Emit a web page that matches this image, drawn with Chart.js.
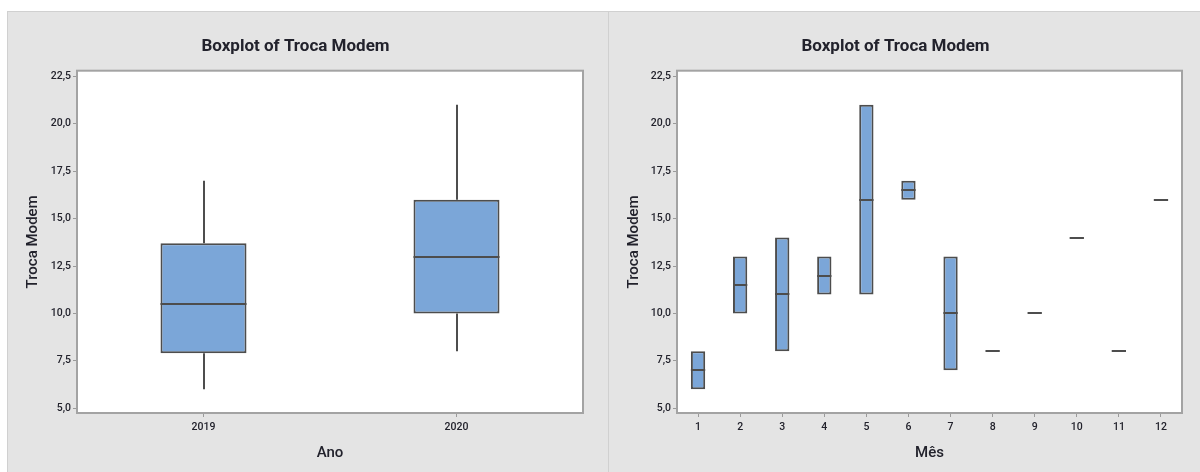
<!DOCTYPE html>
<html>
<head>
<meta charset="utf-8">
<script src="https://cdn.jsdelivr.net/npm/chart.js@4/dist/chart.umd.min.js"></script>
<style>
  html, body { margin: 0; padding: 0; background: #ffffff; width: 1200px; height: 472px; overflow: hidden; }
  .panel { position: absolute; top: 11px; width: 600px; height: 460px; background: #e4e4e4; border: 1px solid #d0d0d0; border-bottom: none; }
  #p1 { left: 7px; }
  #p2 { left: 608px; }
  canvas { display: block; }
</style>
</head>
<body>
<div class="panel" id="p1"><canvas id="anoChart" width="600" height="460"></canvas></div>
<div class="panel" id="p2"><canvas id="mesChart" width="600" height="460"></canvas></div>
<script>
// Troca Modem by year
var years = ['2019', '2020'];
var yearMin = [6, 8];
var yearQ1 = [7.9, 10];
var yearMedian = [10.5, 13];
var yearQ3 = [13.7, 16];
var yearMax = [17, 21];

// Troca Modem by month
var months = ['1', '2', '3', '4', '5', '6', '7', '8', '9', '10', '11', '12'];
var monthMin = [6, 10, 8, 11, 11, 16, 7, 8, 10, 14, 8, 16];
var monthQ1 = [6, 10, 8, 11, 11, 16, 7, 8, 10, 14, 8, 16];
var monthMedian = [7, 11.5, 11, 12, 16, 16.5, 10, 8, 10, 14, 8, 16];
var monthQ3 = [8, 13, 14, 13, 21, 17, 13, 8, 10, 14, 8, 16];
var monthMax = [8, 13, 14, 13, 21, 17, 13, 8, 10, 14, 8, 16];

var yTicks = [5, 7.5, 10, 12.5, 15, 17.5, 20, 22.5];

var boxFill = '#7ba6d8';
var lineColor = '#4d4d4d';
var textColor = '#22222c';

function boxplot(canvasId, labels, mins, q1s, medians, q3s, maxs, xTitle, area) {
  // white plot area with grey frame, then whiskers and medians on top of the bars
  var marks = {
    id: 'boxMarks',
    beforeDraw: function(chart) {
      var a = chart.chartArea, ctx = chart.ctx;
      ctx.save();
      ctx.fillStyle = '#ffffff';
      ctx.fillRect(a.left, a.top, a.right - a.left, a.bottom - a.top);
      ctx.restore();
    },
    beforeDatasetsDraw: function(chart) {
      var a = chart.chartArea, ctx = chart.ctx;
      ctx.save();
      ctx.strokeStyle = '#a3a3a3';
      ctx.lineWidth = 2;
      ctx.strokeRect(a.left, a.top, a.right - a.left, a.bottom - a.top);
      ctx.restore();
    },
    afterDatasetsDraw: function(chart) {
      var ctx = chart.ctx, y = chart.scales.y;
      var bars = chart.getDatasetMeta(0).data;
      ctx.save();
      ctx.strokeStyle = lineColor;
      ctx.lineWidth = 2;
      bars.forEach(function(bar, i) {
        var x = Math.round(bar.x);
        ctx.beginPath();
        if (mins[i] < q1s[i]) {
          ctx.moveTo(x, y.getPixelForValue(mins[i]));
          ctx.lineTo(x, y.getPixelForValue(q1s[i]));
        }
        if (maxs[i] > q3s[i]) {
          ctx.moveTo(x, y.getPixelForValue(q3s[i]));
          ctx.lineTo(x, y.getPixelForValue(maxs[i]));
        }
        var my = Math.round(y.getPixelForValue(medians[i]));
        ctx.moveTo(bar.x - bar.width / 2, my);
        ctx.lineTo(bar.x + bar.width / 2, my);
        ctx.stroke();
      });
      ctx.restore();
    }
  };

  return new Chart(document.getElementById(canvasId), {
    type: 'bar',
    data: {
      labels: labels,
      datasets: [{
        data: q1s.map(function(q, i) { return [q, q3s[i]]; }),
        backgroundColor: boxFill,
        borderColor: lineColor,
        borderWidth: 2,
        borderSkipped: false,
        barPercentage: 0.34,
        categoryPercentage: 1
      }]
    },
    options: {
      responsive: false,
      animation: false,
      devicePixelRatio: 1,
      layout: { padding: { left: 0, right: area.right, top: 0, bottom: 0 } },
      plugins: {
        legend: { display: false },
        tooltip: { enabled: false },
        title: {
          display: true,
          text: 'Boxplot of Troca Modem',
          color: textColor,
          font: { family: 'Roboto', size: 17, weight: 'bold' },
          padding: { top: 24.5, bottom: 13.8 }
        }
      },
      scales: {
        x: {
          offset: true,
          grid: { offset: false, drawOnChartArea: false, tickLength: 4, color: '#9a9a9a' },
          border: { display: false },
          ticks: { color: textColor, font: { family: 'Roboto', size: 10.5, weight: '500' }, padding: 4, maxRotation: 0 },
          title: {
            display: true,
            text: xTitle,
            color: textColor,
            font: { family: 'Roboto', size: 15, weight: '500' },
            padding: { top: 0, bottom: 10 }
          },
          afterFit: function(scale) { scale.height = area.xHeight; }
        },
        y: {
          min: 4.75,
          max: 22.8,
          grid: { drawOnChartArea: false, tickLength: 4, color: '#9a9a9a' },
          border: { display: false },
          afterBuildTicks: function(scale) {
            scale.ticks = yTicks.map(function(v) { return { value: v }; });
          },
          ticks: {
            color: textColor,
            font: { family: 'Roboto', size: 10.5, weight: '500' },
            padding: 2,
            callback: function(value) { return value.toFixed(1).replace('.', ','); }
          },
          title: {
            display: true,
            text: 'Troca Modem',
            color: textColor,
            font: { family: 'Roboto', size: 15, weight: '500' },
            padding: { top: 16, bottom: 0 }
          },
          afterFit: function(scale) { scale.width = area.left; }
        }
      }
    },
    plugins: [marks]
  });
}

boxplot('anoChart', years, yearMin, yearQ1, yearMedian, yearQ3, yearMax, 'Ano',
  { left: 69, right: 25, xHeight: 59 });
boxplot('mesChart', months, monthMin, monthQ1, monthMedian, monthQ3, monthMax, 'Mês',
  { left: 68, right: 27, xHeight: 59 });
</script>
</body>
</html>
